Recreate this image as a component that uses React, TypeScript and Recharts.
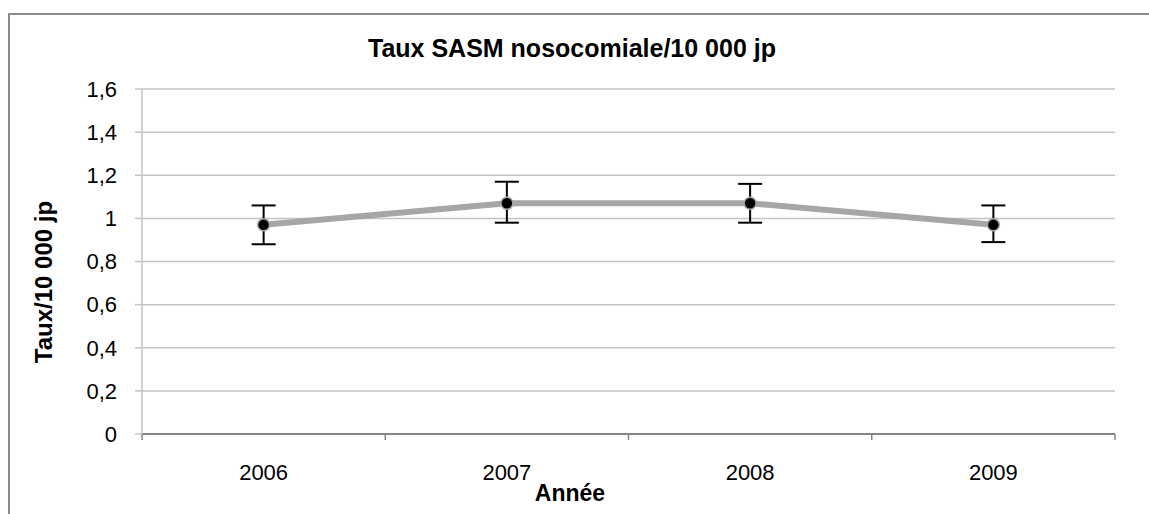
import { LineChart, Line, XAxis, YAxis, CartesianGrid, ErrorBar } from 'recharts';

const years = ['2006', '2007', '2008', '2009'];
const rates = [0.97, 1.07, 1.07, 0.97];
const upper = [1.06, 1.17, 1.16, 1.06];
const lower = [0.88, 0.98, 0.98, 0.89];
const yTicks = [0, 0.2, 0.4, 0.6, 0.8, 1, 1.2, 1.4, 1.6];

const FONT = '"Liberation Sans", Arial, sans-serif';

const data = years.map((year, i) => ({
  pos: i + 0.5,
  year,
  rate: rates[i],
  err: [+(rates[i] - lower[i]).toFixed(2), +(upper[i] - rates[i]).toFixed(2)],
}));

const fmt = (v: number) => String(v).replace('.', ',');

export default function App() {
  return (
    <div style={{ position: 'absolute', left: 0, top: 0, width: 1149, height: 514, overflow: 'hidden', background: '#fff', fontFamily: FONT }}>
      <style>{'html,body{margin:0;overflow:hidden}'}</style>
      <div
        style={{
          position: 'absolute',
          left: 8,
          top: 13,
          width: 1141,
          height: 501,
          boxSizing: 'border-box',
          borderLeft: '2px solid #8a8a8a',
          borderTop: '2px solid #8a8a8a',
        }}
      />
      <div style={{ position: 'absolute', left: 0, top: 0 }}>
        <LineChart width={1149} height={514} data={data} margin={{ top: 89, right: 34, left: 0, bottom: 30 }}>
          <CartesianGrid vertical={false} stroke="#c4c4c4" strokeWidth={1.5} xAxisId="grid" />
          <XAxis
            xAxisId="grid"
            type="number"
            dataKey="pos"
            domain={[0, 4]}
            ticks={[0, 1, 2, 3, 4]}
            height={10}
            tickSize={6}
            tickFormatter={() => ''}
            stroke="#868686"
            axisLine={{ stroke: '#868686', strokeWidth: 2 }}
            tickLine={{ stroke: '#868686', strokeWidth: 1.5 }}
          />
          <XAxis
            xAxisId="labels"
            type="number"
            dataKey="pos"
            domain={[0, 4]}
            ticks={[0.5, 1.5, 2.5, 3.5]}
            height={40}
            tickSize={0}
            tickMargin={20}
            axisLine={false}
            tickLine={false}
            tickFormatter={(v: number) => years[Math.floor(v)]}
            tick={{ fill: '#000', fontSize: 22, fontFamily: FONT }}
          />
          <YAxis
            width={142}
            domain={[0, 1.6]}
            ticks={yTicks}
            tickSize={7}
            tickMargin={18}
            tickFormatter={fmt}
            axisLine={{ stroke: '#c4c4c4', strokeWidth: 1.5 }}
            tickLine={{ stroke: '#c4c4c4', strokeWidth: 1.5 }}
            tick={{ fill: '#000', fontSize: 22, fontFamily: FONT }}
          />
          <Line
            xAxisId="grid"
            type="linear"
            dataKey="rate"
            stroke="#a6a6a6"
            strokeWidth={6}
            dot={{ r: 6, fill: '#000', stroke: '#a6a6a6', strokeWidth: 1.5 }}
            activeDot={false}
            isAnimationActive={false}
          >
            <ErrorBar dataKey="err" direction="y" width={12} stroke="#000" strokeWidth={2} isAnimationActive={false} />
          </Line>
        </LineChart>
      </div>
      <svg width={1149} height={514} style={{ position: 'absolute', left: 0, top: 0, pointerEvents: 'none' }}>
        <text x={572} y={57} textAnchor="middle" fontSize={25} fontWeight="bold" fontFamily={FONT} fill="#000">
          Taux SASM nosocomiale/10 000 jp
        </text>
        <text transform="translate(52,282) rotate(-90)" textAnchor="middle" fontSize={24} fontWeight="bold" fontFamily={FONT} fill="#000">
          Taux/10 000 jp
        </text>
        <text x={570} y={501} textAnchor="middle" fontSize={23} fontWeight="bold" fontFamily={FONT} fill="#000">
          Année
        </text>
      </svg>
    </div>
  );
}
